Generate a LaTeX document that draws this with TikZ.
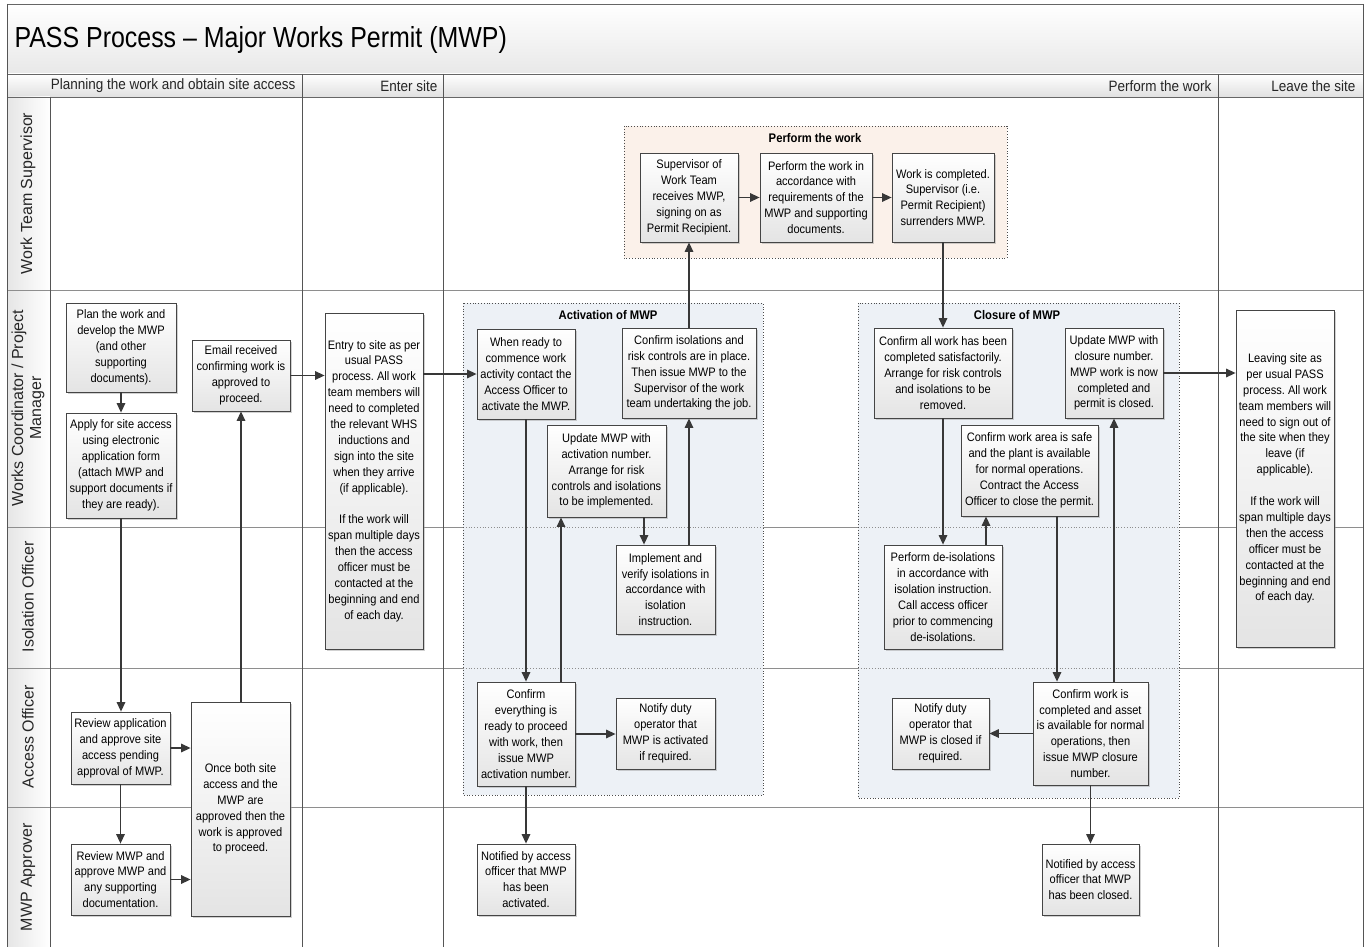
\documentclass[tikz,border=0pt]{standalone}
\usepackage{fontspec}
\setmainfont{Liberation Sans}
\newfontfamily\nf{Liberation Sans}[FakeStretch=0.9]
\newfontfamily\titlefont{Liberation Sans}[FakeStretch=0.86]
\usetikzlibrary{arrows.meta,shadows,positioning}
\frenchspacing

\definecolor{boxline}{HTML}{454545}
\definecolor{boxbot}{HTML}{E4E4E4}
\definecolor{conn}{HTML}{383838}
\definecolor{grpblue}{HTML}{EDF1F6}
\definecolor{grppeach}{HTML}{FBF1EA}
\definecolor{lanegrid}{HTML}{8E8E8E}
\definecolor{colgrid}{HTML}{555555}

\newcommand\boxfont{\nf\fontsize{12.3}{15.9}\selectfont}
\newcommand\procbox[6]{\node[stepbox, minimum width=#4pt, minimum height=#5pt] (#1) at (#2,#3) {#6};}

\tikzset{
  stepbox/.style={draw=boxline, line width=0.8pt, top color=white, bottom color=boxbot,
    drop shadow={shadow xshift=1.6pt, shadow yshift=-1.6pt, fill=black!40, opacity=0.45},
    inner sep=1pt, align=center, font=\boxfont, text=black},
  arr/.style={draw=conn, line width=1.4pt, -{Triangle[length=9.5pt,width=8.5pt]}},
  lanelabel/.style={rotate=90, align=center, font=\fontsize{16}{18}\selectfont, text=black!85},
  colhead/.style={anchor=east, font=\nf\fontsize{15}{17}\selectfont, text=black!85},
  grptitle/.style={font=\nf\bfseries\fontsize{12.5}{14}\selectfont},
  grpframe/.style={draw=black!70, dotted, line width=0.8pt},
}

\begin{document}
\begin{tikzpicture}[x=1pt, y=-1pt]
\useasboundingbox (0,0) rectangle (1370,947);
\fill[white] (0,0) rectangle (1370,947);

% title band and column header row
\shade[top color=white, bottom color=black!9] (7,4) rectangle (1363,74);
\shade[top color=white, bottom color=black!12] (7,74) rectangle (1363,97);
\shade[left color=black!10, right color=white] (7,97) rectangle (50,947);
\node[anchor=west, font=\titlefont\fontsize{29}{32}\selectfont] (title) at (11,40) {PASS Process – Major Works Permit (MWP)};

\node[colhead] (h1) at (299,86) {Planning the work and obtain site access};
\node[colhead] (h2) at (441,86) {Enter site};
\node[colhead] (h3) at (1215,86) {Perform the work};
\node[colhead] (h4) at (1359,86) {Leave the site};

% lane labels
\node[lanelabel] (l1) at (28,193.5) {Work Team Supervisor};
\node[lanelabel] (l2) at (28,408) {Works Coordinator / Project\\Manager};
\node[lanelabel] (l3) at (28,597) {Isolation Officer};
\node[lanelabel] (l4) at (28,737) {Access Officer};
\node[lanelabel] (l5) at (28,877) {MWP Approver};

% grid
\draw[black!60, line width=0.8pt] (7,4) -- (1363,4);
\draw[black!60, line width=0.8pt] (7,74) -- (1363,74);
\draw[black!60, line width=0.8pt] (7,97) -- (1363,97);
\foreach \yy in {290,527,668,807}
  \draw[lanegrid, line width=0.8pt] (7,\yy) -- (1363,\yy);
\draw[colgrid, line width=0.8pt] (7,4) -- (7,947);
\draw[colgrid, line width=0.8pt] (1363,4) -- (1363,947);
\draw[colgrid, line width=0.7pt] (50,97) -- (50,947);
\foreach \xx in {302,443,1218}
  \draw[colgrid, line width=0.7pt] (\xx,74) -- (\xx,947);

% process groups
\fill[grpblue] (463,303) rectangle (763,795);
\fill[grpblue] (858,303) rectangle (1179,798);
\fill[grppeach] (624,126) rectangle (1007,258);
\foreach \yy in {527,668}{
  \draw[lanegrid, dotted, line width=0.8pt] (463,\yy) -- (763,\yy);
  \draw[lanegrid, dotted, line width=0.8pt] (858,\yy) -- (1179,\yy);
}
\draw[grpframe] (463,303) rectangle (763,795);
\draw[grpframe] (858,303) rectangle (1179,798);
\draw[grpframe] (624,126) rectangle (1007,258);
\node[grptitle] (gact) at (608,315) {Activation of MWP};
\node[grptitle] (gclo) at (1017,315) {Closure of MWP};
\node[grptitle] (gper) at (815,138) {Perform the work};

% planning
\procbox{plan}{121}{347.5}{110}{89}{Plan the work and\\develop the MWP\\(and other\\supporting\\documents).}
\procbox{apply}{121}{465.5}{110}{105}{Apply for site access\\using electronic\\application form\\(attach MWP and\\support documents if\\they are ready).}
\procbox{email}{241}{375.5}{98}{71}{Email received\\confirming work is\\approved to\\proceed.}
\procbox{revapp}{120.5}{748}{99}{72}{Review application\\and approve site\\access pending\\approval of MWP.}
\procbox{revmwp}{120.5}{879.5}{99}{71}{Review MWP and\\approve MWP and\\any supporting\\documentation.}
\procbox{once}{240.5}{809}{99}{214}{Once both site\\access and the\\MWP are\\approved then the\\work is approved\\to proceed.}

% entering site
\procbox{entry}{374}{481}{98}{336}{Entry to site as per\\usual PASS\\process. All work\\team members will\\need to completed\\the relevant WHS\\inductions and\\sign into the site\\when they arrive\\(if applicable).\\[15.9pt]If the work will\\span multiple days\\then the access\\officer must be\\contacted at the\\beginning and end\\of each day.}

% activation
\procbox{ready}{526}{374}{98}{90}{When ready to\\commence work\\activity contact the\\Access Officer to\\activate the MWP.}
\procbox{confiso}{689}{373}{134}{90}{Confirm isolations and\\risk controls are in place.\\Then issue MWP to the\\Supervisor of the work\\team undertaking the job.}
\procbox{updact}{606.5}{471}{119}{92}{Update MWP with\\activation number.\\Arrange for risk\\controls and isolations\\to be implemented.}
\procbox{implement}{665.5}{589.5}{99}{89}{Implement and\\verify isolations in\\accordance with\\isolation\\instruction.}
\procbox{confall}{526}{734}{98}{104}{Confirm\\everything is\\ready to proceed\\with work, then\\issue MWP\\activation number.}
\procbox{notifyact}{665.5}{733.5}{99}{71}{Notify duty\\operator that\\MWP is activated\\if required.}
\procbox{notifiedact}{526}{879.5}{98}{71}{Notified by access\\officer that MWP\\has been\\activated.}

% performing the work
\procbox{supervisor}{689}{197.5}{98}{89}{Supervisor of\\Work Team\\receives MWP,\\signing on as\\Permit Recipient.}
\procbox{perform}{816}{197.5}{112}{89}{Perform the work in\\accordance with\\requirements of the\\MWP and supporting\\documents.}
\procbox{completed}{943}{197.5}{102}{89}{Work is completed.\\Supervisor (i.e.\\Permit Recipient)\\surrenders MWP.}

% closure
\procbox{confallwork}{943}{373}{138}{90}{Confirm all work has been\\completed satisfactorily.\\Arrange for risk controls\\and isolations to be\\removed.}
\procbox{updclose}{1114}{373}{98}{90}{Update MWP with\\closure number.\\MWP work is now\\completed and\\permit is closed.}
\procbox{safe}{1029.5}{470.5}{137}{91}{Confirm work area is safe\\and the plant is available\\for normal operations.\\Contract the Access\\Officer to close the permit.}
\procbox{deiso}{943}{597}{118}{104}{Perform de-isolations\\in accordance with\\isolation instruction.\\Call access officer\\prior to commencing\\de-isolations.}
\procbox{confcomp}{1090.5}{733.5}{115}{103}{Confirm work is\\completed and asset\\is available for normal\\operations, then\\issue MWP closure\\number.}
\procbox{notifyclose}{940.5}{733.5}{97}{71}{Notify duty\\operator that\\MWP is closed if\\required.}
\procbox{notifiedclose}{1090.5}{879.5}{97}{71}{Notified by access\\officer that MWP\\has been closed.}

% leaving site
\procbox{leave}{1285}{478.5}{98}{337}{Leaving site as\\per usual PASS\\process. All work\\team members will\\need to sign out of\\the site when they\\leave (if\\applicable).\\[15.9pt]If the work will\\span multiple days\\then the access\\officer must be\\contacted at the\\beginning and end\\of each day.}

% connectors
\draw[arr] (plan.south) -- (apply.north);
\draw[arr] (apply.south) -- (apply.south |- revapp.north);
\draw[arr] (revapp.south) -- (revapp.south |- revmwp.north);
\draw[arr] (revapp.east) -- (revapp.east -| once.west);
\draw[arr] (revmwp.east) -- (revmwp.east -| once.west);
\draw[arr] (once.north -| email.south) -- (email.south);
\draw[arr] (email.east) -- (email.east -| entry.west);
\draw[arr] (ready.west -| entry.east) -- (ready.west);

\draw[arr] (ready.south) -- (ready.south |- confall.north);
\draw[arr] ([xshift=35pt]confall.north) -- ([xshift=35pt]confall.north |- updact.south);
\draw[arr] ([xshift=37.5pt]updact.south) -- ([xshift=37.5pt]updact.south |- implement.north);
\draw[arr] (implement.north -| confiso.south) -- (confiso.south);
\draw[arr] (confiso.north) -- (confiso.north |- supervisor.south);
\draw[arr] (confall.east) -- (confall.east -| notifyact.west);
\draw[arr] (confall.south) -- (confall.south |- notifiedact.north);

\draw[arr] (supervisor.east) -- (perform.west);
\draw[arr] (perform.east) -- (completed.west);
\draw[arr] (completed.south) -- (completed.south |- confallwork.north);

\draw[arr] (confallwork.south) -- (confallwork.south |- deiso.north);
\draw[arr] ([xshift=43pt]deiso.north) -- ([xshift=43pt]deiso.north |- safe.south);
\draw[arr] ([xshift=27.5pt]safe.south) -- ([xshift=27.5pt]safe.south |- confcomp.north);
\draw[arr] (confcomp.north -| updclose.south) -- (updclose.south);
\draw[arr] (confcomp.west) -- (confcomp.west -| notifyclose.east);
\draw[arr] (confcomp.south) -- (confcomp.south |- notifiedclose.north);
\draw[arr] (updclose.east) -- (updclose.east -| leave.west);
\end{tikzpicture}
\end{document}
